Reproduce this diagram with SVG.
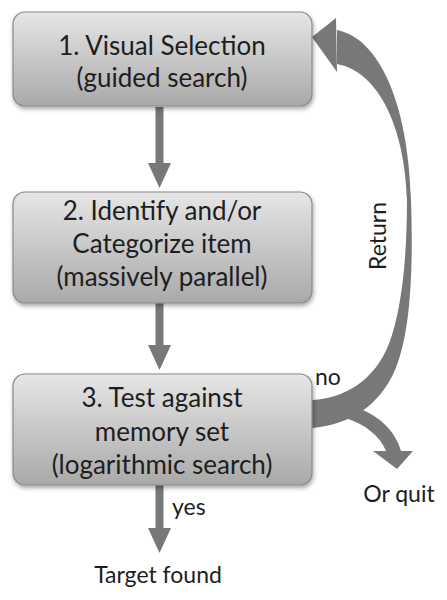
<svg xmlns="http://www.w3.org/2000/svg" width="447" height="600" viewBox="0 0 447 600">
<style>
.box{fill:url(#g);stroke:#8a8a8a;stroke-width:1.2;filter:url(#sh)}
.t{font-family:Lato,"Liberation Sans",sans-serif;font-size:26px;fill:#1e1e1e;text-anchor:middle}
.l{font-family:Lato,"Liberation Sans",sans-serif;font-size:23px;fill:#1e1e1e}
.a{fill:#787878}
</style>
<defs>
<linearGradient id="g" x1="0" y1="0" x2="0" y2="1">
<stop offset="0" stop-color="#e6e6e6"/>
<stop offset="1" stop-color="#a9a9a9"/>
</linearGradient>
<filter id="sh" x="-10%" y="-10%" width="120%" height="130%">
<feDropShadow dx="1" dy="2.5" stdDeviation="2" flood-color="#000" flood-opacity="0.35"/>
</filter>
</defs>
<rect width="447" height="600" fill="#fff"/>
<g id="connectors">
<path class="a" d="M155.5 107 H163.5 V163 H171 L159.5 188 L148 163 H155.5 Z"/>
<path class="a" d="M155.5 303 H163.5 V345 H171 L159.5 370 L148 345 H155.5 Z"/>
<path class="a" d="M155.5 485 H163.5 V528 H171 L159.5 553 L148 528 H155.5 Z"/>
<path class="a" d="M337 30 C378 38 408 100 411 200 C413 260 412 330 395 370 C380 405 350 425 312 428 L312 400 C350 398 380 375 392 335 C403 300 407 250 407 200 C405 130 380 72 337 64 Z"/>
<path class="a" d="M312 37 L336 18 L337 72 Z"/>
<path class="a" d="M352 406 C378 414 395 430 401 451 L386 451 C380 436 365 424 345 418 Z"/>
<path class="a" d="M373 451 L413 451 L397 469 Z"/>
</g>
<g id="node1">
<rect class="box" x="13" y="12" width="299" height="94" rx="12"/>
<text class="t" x="162" y="55">1. Visual Selection</text>
<text class="t" x="162" y="87">(guided search)</text>
</g>
<g id="node2">
<rect class="box" x="13" y="192" width="299" height="111" rx="12"/>
<text class="t" x="162" y="220">2. Identify and/or</text>
<text class="t" x="162" y="253">Categorize item</text>
<text class="t" x="162" y="286">(massively parallel)</text>
</g>
<g id="node3">
<rect class="box" x="13" y="374" width="299" height="111" rx="12"/>
<text class="t" x="162" y="407">3. Test against</text>
<text class="t" x="162" y="441">memory set</text>
<text class="t" x="162" y="474">(logarithmic search)</text>
</g>
<g id="labels">
<text class="l" x="172" y="515">yes</text>
<text class="l" x="315" y="385">no</text>
<text class="l" x="386" y="236" text-anchor="middle" transform="rotate(-90 386 236)">Return</text>
</g>
<g id="target">
<text class="l" x="158" y="583" text-anchor="middle">Target found</text>
</g>
<g id="quit">
<text class="l" x="399" y="502" text-anchor="middle">Or quit</text>
</g>
</svg>
